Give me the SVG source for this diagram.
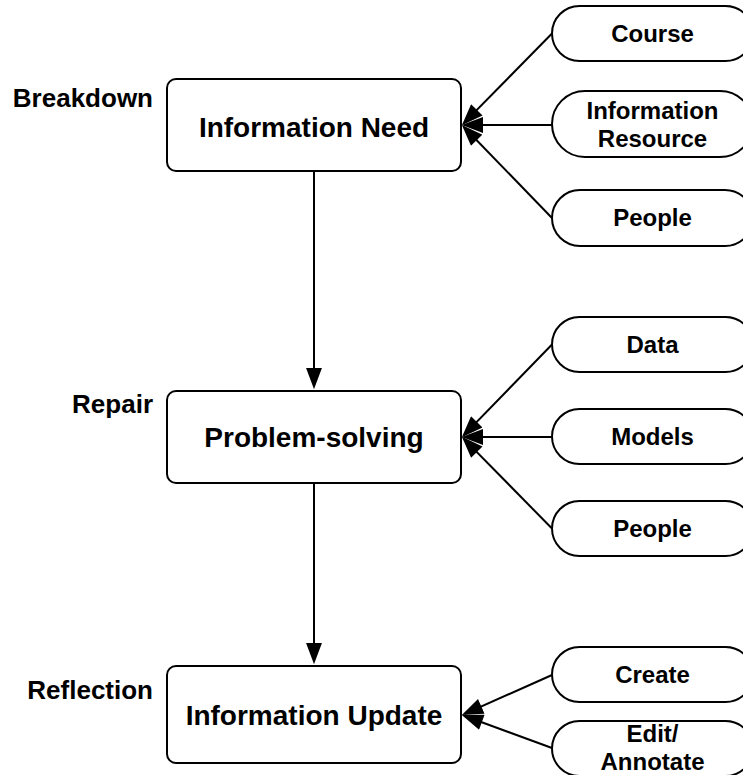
<svg xmlns="http://www.w3.org/2000/svg" width="743" height="775" viewBox="0 0 743 775">
<style>
.box{fill:#fff;stroke:#000;stroke-width:2}
.pill{fill:#fff;stroke:#000;stroke-width:2}
.t{font-family:"Liberation Sans",Arial,Helvetica,sans-serif;font-weight:bold;fill:#000}
.main{font-size:28px;text-anchor:middle}
.sm{font-size:24px;text-anchor:middle}
.lbl{font-size:26px;text-anchor:end}
.c{stroke:#000;stroke-width:2;fill:none;marker-end:url(#ah)}
</style>
<defs>
<marker id="ah" markerUnits="userSpaceOnUse" markerWidth="22" markerHeight="16" viewBox="0 0 20 15" refX="17" refY="7.5" orient="auto">
<path d="M0,0 L20,7.5 L0,15 Z" fill="#000"/>
</marker>
</defs>
<rect width="743" height="775" fill="#fff"/>
<g id="connectors">
<line class="c" x1="314" y1="171" x2="314" y2="386"/>
<line class="c" x1="314" y1="483" x2="314" y2="661"/>
<line class="c" x1="552" y1="33.5" x2="464.1" y2="122.9"/>
<line class="c" x1="552" y1="125" x2="465" y2="125"/>
<line class="c" x1="552" y1="218" x2="464.1" y2="127.2"/>
<line class="c" x1="552" y1="344.5" x2="464.1" y2="434.9"/>
<line class="c" x1="552" y1="437" x2="465" y2="437"/>
<line class="c" x1="552" y1="528.5" x2="464.1" y2="439.1"/>
<line class="c" x1="552" y1="675" x2="464.7" y2="713.8"/>
<line class="c" x1="552" y1="748" x2="464.8" y2="716"/>
</g>
<g id="label-breakdown"><text class="t lbl" x="153" y="107">Breakdown</text></g>
<g id="label-repair"><text class="t lbl" x="153" y="413">Repair</text></g>
<g id="label-reflection"><text class="t lbl" x="153" y="699">Reflection</text></g>
<g id="information-need">
<rect class="box" x="167" y="79" width="294" height="92" rx="9"/>
<text class="t main" x="314" y="137">Information Need</text>
</g>
<g id="problem-solving">
<rect class="box" x="167" y="391" width="294" height="92" rx="9"/>
<text class="t main" x="314" y="447">Problem-solving</text>
</g>
<g id="information-update">
<rect class="box" x="167" y="666" width="294" height="97" rx="9"/>
<text class="t main" x="314" y="725">Information Update</text>
</g>
<g id="course">
<rect class="pill" x="552" y="6" width="201" height="55" rx="27.5"/>
<text class="t sm" x="652.5" y="42">Course</text>
</g>
<g id="information-resource">
<rect class="pill" x="552" y="91" width="201" height="66" rx="33"/>
<text class="t sm" x="652.5" y="119">Information</text>
<text class="t sm" x="652.5" y="147">Resource</text>
</g>
<g id="people-1">
<rect class="pill" x="552" y="190" width="201" height="56" rx="28"/>
<text class="t sm" x="652.5" y="226">People</text>
</g>
<g id="data">
<rect class="pill" x="552" y="317" width="201" height="55" rx="27.5"/>
<text class="t sm" x="652.5" y="353">Data</text>
</g>
<g id="models">
<rect class="pill" x="552" y="409" width="201" height="55" rx="27.5"/>
<text class="t sm" x="652.5" y="445">Models</text>
</g>
<g id="people-2">
<rect class="pill" x="552" y="501" width="201" height="55" rx="27.5"/>
<text class="t sm" x="652.5" y="537">People</text>
</g>
<g id="create">
<rect class="pill" x="552" y="647" width="201" height="55" rx="27.5"/>
<text class="t sm" x="652.5" y="683">Create</text>
</g>
<g id="edit-annotate">
<rect class="pill" x="552" y="721" width="201" height="55" rx="27.5"/>
<text class="t sm" x="652.5" y="742">Edit/</text>
<text class="t sm" x="652.5" y="770">Annotate</text>
</g>
</svg>
